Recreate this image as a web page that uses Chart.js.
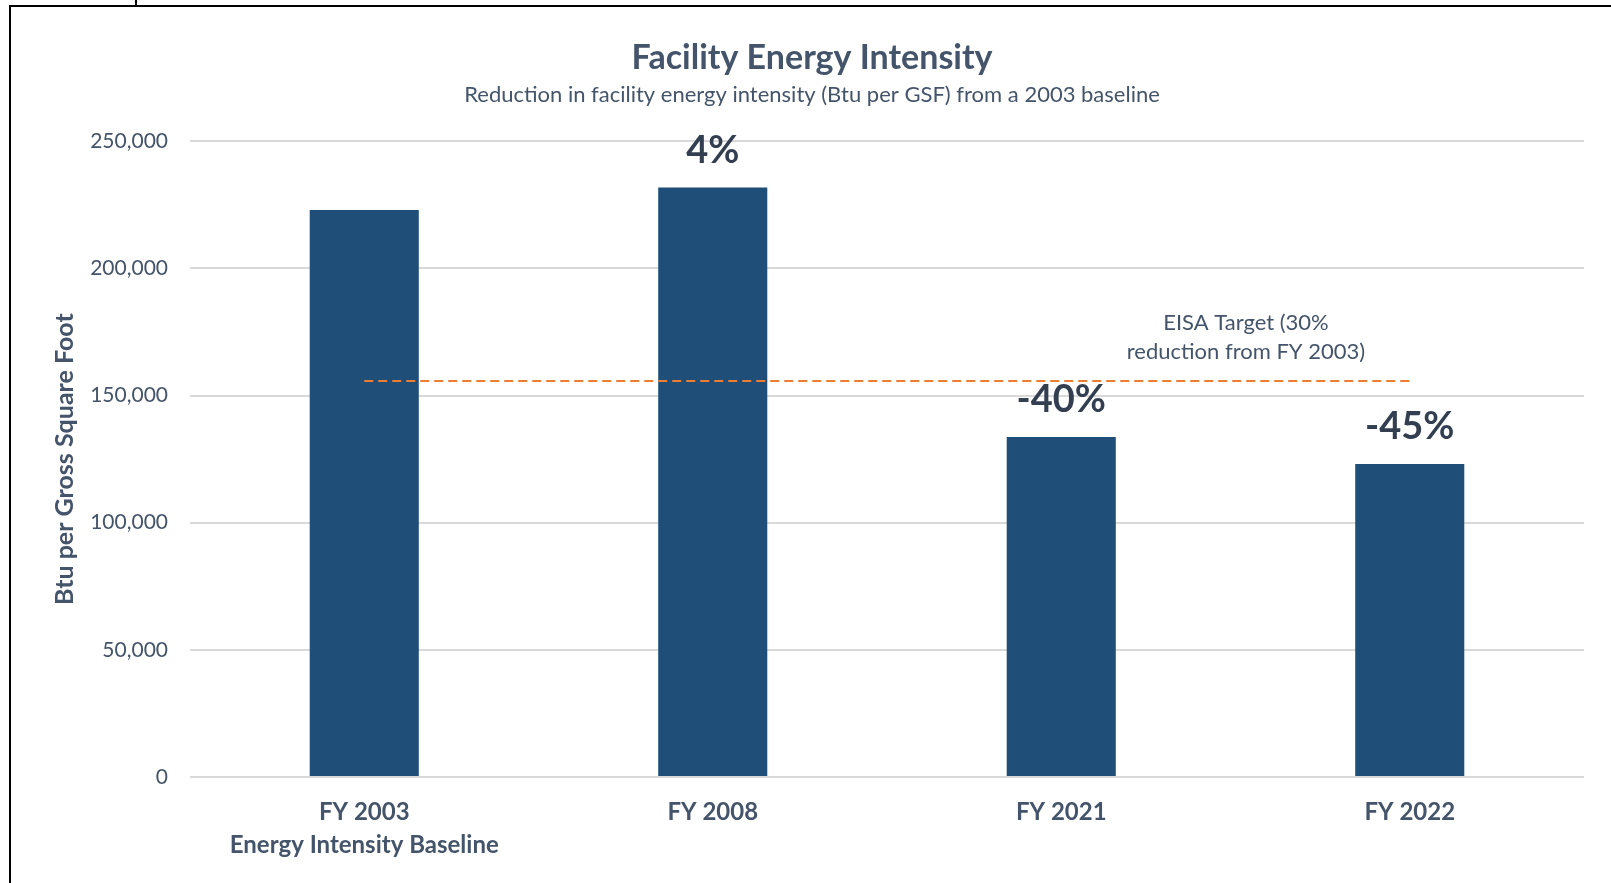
<!DOCTYPE html>
<html lang="en">
<head>
  <meta charset="UTF-8">
  <title>Facility Energy Intensity</title>
  <style>
    body {
      margin: 0;
      background: #fff;
      font-family: 'Lato', sans-serif;
    }
    #wrap {
      position: relative;
      width: 1611px;
      height: 883px;
      overflow: hidden;
    }
    canvas {
      position: absolute;
      left: 0;
      top: 0;
    }
    /* frame lines of the surrounding table cell */
    .frame {
      position: absolute;
      left: 9px;
      top: 5px;
      width: 1610px;
      height: 890px;
      border-top: 2px solid #000;
      border-left: 2px solid #000;
    }
    .stub {
      position: absolute;
      left: 135px;
      top: 0;
      width: 2px;
      height: 6px;
      background: #000;
    }
  </style>
  <script src="https://cdn.jsdelivr.net/npm/chart.js"></script>
</head>
<body>
  <div id="wrap">
    <canvas id="energyChart" width="1611" height="883"></canvas>
    <div class="frame"></div>
    <div class="stub"></div>
  </div>

  <script>
    // data
    const categories = [['FY 2003', 'Energy Intensity Baseline'], 'FY 2008', 'FY 2021', 'FY 2022'];
    const intensity = [222900, 231800, 133700, 123100];
    const changeLabels = ['', '4%', '-40%', '-45%'];
    const eisaTarget = [155700, 155700, 155700, 155700];
    const yTicks = [0, 50000, 100000, 150000, 200000, 250000];

    const slate = '#44546A';
    const font = 'Lato';

    // percent change above each bar
    const barLabels = {
      id: 'barLabels',
      afterDatasetsDraw(chart) {
        const ctx = chart.ctx;
        const meta = chart.getDatasetMeta(1);
        ctx.save();
        ctx.font = 'bold 38px ' + font;
        ctx.fillStyle = '#333F50';
        ctx.textAlign = 'center';
        ctx.textBaseline = 'middle';
        meta.data.forEach((bar, i) => {
          if (changeLabels[i]) ctx.fillText(changeLabels[i], bar.x, bar.y - 37);
        });
        ctx.restore();
      }
    };

    // note for the dashed target line
    const targetNote = {
      id: 'targetNote',
      afterDatasetsDraw(chart) {
        const ctx = chart.ctx;
        const x = chart.scales.x.getPixelForValue(2.53);
        const y = chart.scales.y.getPixelForValue(eisaTarget[0]);
        ctx.save();
        ctx.font = '22px ' + font;
        ctx.fillStyle = slate;
        ctx.textAlign = 'center';
        ctx.textBaseline = 'middle';
        ctx.fillText('EISA Target (30%', x, y - 58);
        ctx.fillText('reduction from FY 2003)', x, y - 29);
        ctx.restore();
      }
    };

    new Chart(document.getElementById('energyChart'), {
      data: {
        labels: categories,
        datasets: [
          {
            type: 'line',
            label: 'EISA Target',
            data: eisaTarget,
            borderColor: '#ED7D31',
            borderWidth: 2,
            borderDash: [9, 5],
            pointRadius: 0,
            fill: false,
            order: 0
          },
          {
            type: 'bar',
            label: 'Btu per GSF',
            data: intensity,
            backgroundColor: '#1F4E79',
            categoryPercentage: 1,
            barPercentage: 0.313,
            order: 1
          }
        ]
      },
      plugins: [barLabels, targetNote],
      options: {
        responsive: false,
        animation: false,
        layout: {
          padding: { left: 40, right: 27, top: 0, bottom: 0 }
        },
        plugins: {
          legend: { display: false },
          tooltip: { enabled: false },
          title: {
            display: true,
            text: 'Facility Energy Intensity',
            color: slate,
            font: { family: font, size: 34, weight: 'bold', lineHeight: 1.2 },
            padding: { top: 38, bottom: 0 }
          },
          subtitle: {
            display: true,
            text: 'Reduction in facility energy intensity (Btu per GSF) from a 2003 baseline',
            color: slate,
            font: { family: font, size: 22, lineHeight: 1.2 },
            padding: { top: 3, bottom: 33 }
          }
        },
        scales: {
          x: {
            afterFit(scale) {
              scale.height = 106;
            },
            grid: { display: false },
            border: { display: false },
            ticks: {
              color: slate,
              padding: 10,
              maxRotation: 0,
              font: { family: font, size: 24, weight: 'bold', lineHeight: 1.4 }
            }
          },
          y: {
            min: 0,
            max: 250000,
            afterBuildTicks(scale) {
              scale.ticks = yTicks.map(v => ({ value: v }));
            },
            afterFit(scale) {
              scale.width = 150;
            },
            grid: { color: '#D9D9D9', lineWidth: 2, drawTicks: false },
            border: { display: false },
            ticks: {
              color: slate,
              padding: 22,
              font: { family: font, size: 21 },
              callback: v => v.toLocaleString('en-US')
            },
            title: {
              display: true,
              text: 'Btu per Gross Square Foot',
              color: slate,
              font: { family: font, size: 25, weight: 'bold' },
              padding: { top: 10, bottom: 0 }
            }
          }
        }
      }
    });
  </script>
</body>
</html>
